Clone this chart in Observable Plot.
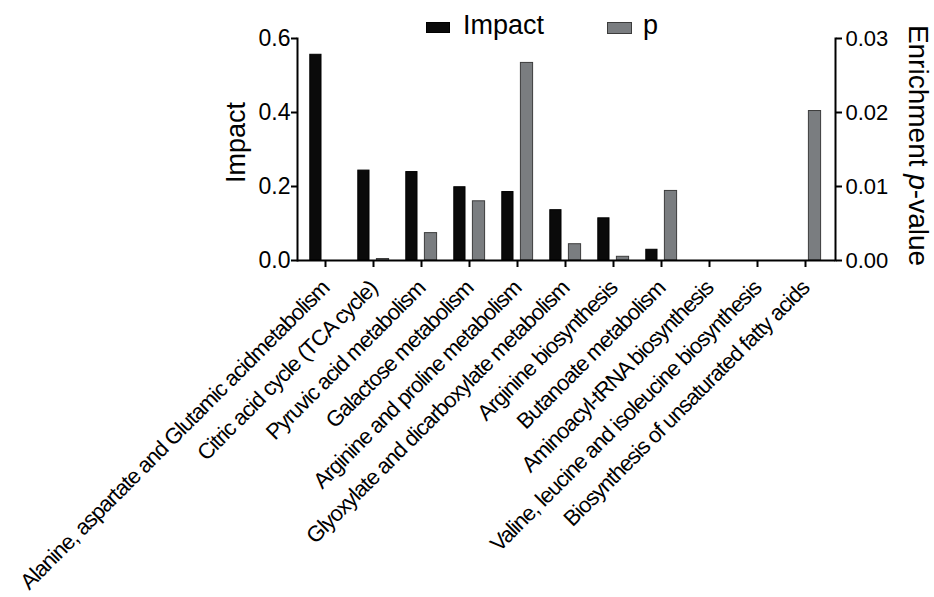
<!DOCTYPE html>
<html>
<head>
<meta charset="utf-8">
<script src="https://cdn.jsdelivr.net/npm/d3@7"></script>
<script src="https://cdn.jsdelivr.net/npm/@observablehq/plot@0.6"></script>
<style>
  html, body { margin: 0; padding: 0; background: #fff; }
  #wrap { position: relative; width: 934px; height: 597px; font-family: "Liberation Sans", Arial, sans-serif; }
  .lg-sw { position: absolute; box-sizing: border-box; }
  .lg-tx { position: absolute; font-size: 27px; line-height: 1; color: #000; }
  g[aria-label="x-axis tick label"] text { letter-spacing: -1px; }
</style>
</head>
<body>
<div id="wrap"></div>
<script>
const categories = [
  "Alanine, aspartate and Glutamic acidmetabolism",
  "Citric acid cycle (TCA cycle)",
  "Pyruvic acid metabolism",
  "Galactose metabolism",
  "Arginine and proline metabolism",
  "Glyoxylate and dicarboxylate metabolism",
  "Arginine biosynthesis",
  "Butanoate metabolism",
  "Aminoacyl-tRNA biosynthesis",
  "Valine, leucine and isoleucine biosynthesis",
  "Biosynthesis of unsaturated fatty acids"
];
const impactValues = [0.556, 0.243, 0.239, 0.198, 0.185, 0.136, 0.114, 0.029, 0, 0, 0];
const pValues = [0, 0.0002, 0.0037, 0.0080, 0.0267, 0.0022, 0.0005, 0.0094, 0, 0, 0.0202];
const impactTicks = [0, 0.2, 0.4, 0.6];
const pTicks = [0, 0.01, 0.02, 0.03];
const seriesNames = ["Impact", "p"];
const seriesColors = ["#0a0a0a", "#7a7d80"];

const pMax = 0.03, impactMax = 0.6;
const k = impactMax / pMax; // right axis maps onto left scale

const rows = categories.map((c, i) => ({cat: c, impact: impactValues[i], p: pValues[i]}));

const font = "'Liberation Sans', Arial, sans-serif";

const chart = Plot.plot({
  width: 934,
  height: 597,
  marginLeft: 297,
  marginRight: 99,
  marginTop: 38,
  marginBottom: 337,
  style: {fontFamily: font, background: "#fff", color: "#000", overflow: "visible"},
  x: {domain: categories, range: [297.4, 831.6], padding: 0},
  y: {domain: [0, impactMax]},
  marks: [
    Plot.barY(rows, {x: "cat", y: "impact", fill: seriesColors[0], stroke: "#000", strokeWidth: 1,
      insetLeft: 8.8, insetRight: 28, filter: d => d.impact > 0}),
    Plot.barY(rows, {x: "cat", y: d => d.p * k, fill: seriesColors[1], stroke: "#3c3c3c", strokeWidth: 1,
      insetLeft: 27.4, insetRight: 8.4, filter: d => d.p > 0}),
    Plot.ruleY([0], {stroke: "#000", strokeWidth: 2}),
    Plot.frame({anchor: "left", stroke: "#000", strokeWidth: 2}),
    Plot.frame({anchor: "right", stroke: "#000", strokeWidth: 2}),
    Plot.axisY(impactTicks, {anchor: "left", tickFormat: d => d.toFixed(1), tickSize: 6, tickPadding: 1,
      fontSize: 23, strokeWidth: 2, label: null}),
    Plot.axisY(pTicks.map(t => t * k), {anchor: "right", tickFormat: d => (d / k).toFixed(2), tickSize: 6,
      tickPadding: 4, fontSize: 22, strokeWidth: 2, label: null}),
    Plot.axisX({tickRotate: -45, tickSize: 7, tickPadding: 17, fontSize: 22,
      strokeWidth: 2, label: null}),
    Plot.text(["Impact"], {frameAnchor: "left", textAnchor: "middle", dx: -61, dy: -7, rotate: -90,
      fontSize: 27, fill: "#000"}),
    Plot.text(["Enrichment p-value"], {frameAnchor: "right", textAnchor: "middle", dx: 82, dy: -4, rotate: 90,
      fontSize: 28, fill: "#000", className: "ptitle"})
  ]
});

// italicize the "p" in the right axis title
const t = d3.select(chart).select(".ptitle text");
if (!t.empty()) {
  t.text(null);
  t.append("tspan").text("Enrichment ");
  t.append("tspan").attr("font-style", "italic").text("p");
  t.append("tspan").text("-value");
}

const wrap = document.getElementById("wrap");
wrap.appendChild(chart);

// legend
const legendPos = [
  {sx: 426, sy: 22, sw: 24, sh: 11, tx: 463, ty: 12},
  {sx: 607, sy: 22, sw: 25, sh: 12, tx: 643, ty: 12}
];
seriesNames.forEach((name, i) => {
  const sw = document.createElement("div");
  sw.className = "lg-sw";
  Object.assign(sw.style, {left: legendPos[i].sx + "px", top: legendPos[i].sy + "px",
    width: legendPos[i].sw + "px", height: legendPos[i].sh + "px", background: seriesColors[i],
    border: "1px solid " + (i ? "#3c3c3c" : "#000")});
  wrap.appendChild(sw);
  const tx = document.createElement("div");
  tx.className = "lg-tx";
  tx.textContent = name;
  Object.assign(tx.style, {left: legendPos[i].tx + "px", top: legendPos[i].ty + "px"});
  wrap.appendChild(tx);
});
</script>
</body>
</html>
